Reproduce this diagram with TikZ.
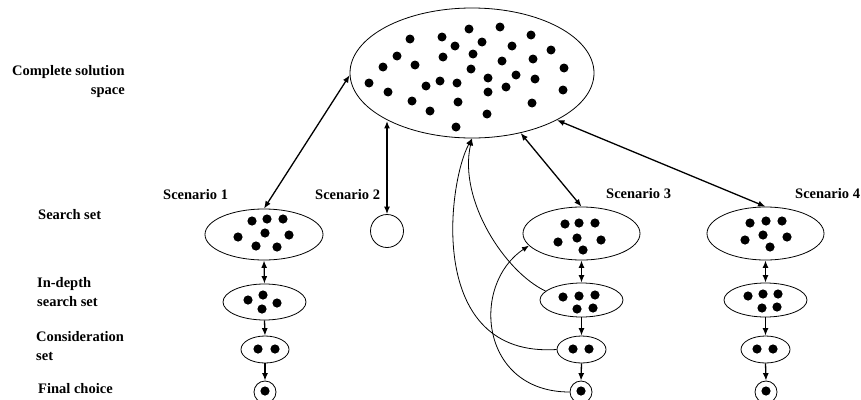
\documentclass[tikz,border=0pt]{standalone}
\usepackage{fontspec}
\setmainfont{Liberation Serif}
\usetikzlibrary{shapes.geometric, arrows.meta}
\begin{document}
\begin{tikzpicture}[x=1pt,y=-1pt,
  set/.style={draw, ellipse, line width=0.8pt, inner sep=0pt},
  pick/.style={draw, circle, line width=0.8pt, inner sep=0pt, minimum size=22pt},
  link/.style={line width=1.3pt, -{Latex[length=7.5pt,width=6pt]}},
  both/.style={line width=1.3pt, {Latex[length=7.5pt,width=6pt]}-{Latex[length=7.5pt,width=6pt]}},
  back/.style={line width=0.8pt, -{Latex[length=7pt,width=5.5pt]}},
  lbl/.style={font=\fontsize{14.5}{17}\selectfont\bfseries, inner sep=0pt},
]
\useasboundingbox (0,0) rectangle (861,399);

% complete solution space
\node[set, minimum width=244pt, minimum height=130pt] (space) at (472,73) {};
\foreach \p in {(410,39),(442,37),(469,29),(500,27),(531,35),(455,46),(482,42),
  (512,46),(551,50),(397,56),(383,67),(415,65),(443,57),(473,54),(502,61),
  (533,59),(564,68),(471,69),(369,83),(388,92),(426,86),(440,81),(457,83),
  (488,78),(516,75),(535,79),(488,92),(506,87),(563,90),(412,101),(430,111),
  (458,102),(532,103),(487,114),(456,127)}
  \fill \p circle[radius=4.5pt];

% scenario 1
\node[set, minimum width=118pt, minimum height=51pt] (s1) at (264,234.5) {};
\node[set, minimum width=83pt, minimum height=36pt] (d1) at (264.5,302) {};
\node[set, minimum width=48pt, minimum height=27pt] (c1) at (265,349.5) {};
\node[pick] (f1) at (265,392) {};
\foreach \p in {(252,221),(267,219),(283,219),(238,237),(265,233),(289,235),(256,246),(277,247),
  (248,300),(263,295),(277,303),(262,309),(258,349),(275,349),(265,391)}
  \fill \p circle[radius=4.6pt];

% scenario 2
\node[draw, circle, line width=0.8pt, inner sep=0pt, minimum size=33pt] (e2) at (387,231) {};

% scenario 3
\node[set, minimum width=117pt, minimum height=53pt] (s3) at (581.5,233.5) {};
\node[set, minimum width=83pt, minimum height=34pt] (d3) at (581.5,300) {};
\node[set, minimum width=49pt, minimum height=27pt] (c3) at (581.5,349.5) {};
\node[pick] (f3) at (581,392) {};
\foreach \p in {(565,224),(579,223),(595,223),(558,242),(577,238),(601,240),(583,250),
  (563,297),(579,296),(595,295),(577,309),(593,308),(573,349),(589,349),(581,391)}
  \fill \p circle[radius=4.6pt];

% scenario 4
\node[set, minimum width=117pt, minimum height=53pt] (s4) at (765.5,233.5) {};
\node[set, minimum width=83pt, minimum height=34pt] (d4) at (765.5,300) {};
\node[set, minimum width=49pt, minimum height=27pt] (c4) at (765.5,349.5) {};
\node[pick] (f4) at (766,392) {};
\foreach \p in {(750,223),(766,221),(782,221),(745,240),(763,235),(787,237),(770,247),
  (748,296),(763,294),(778,294),(762,308),(777,307),(757,349),(773,349),(766,391)}
  \fill \p circle[radius=4.6pt];

% links to the solution space
\draw[both] (space.181) -- (s1.north);
\draw[both] (e2.north) -- (e2.north |- space.-150);
\draw[both] (space.-51) -- (s3.north);
\draw[both] (space.-29) -- (s4.north);

% funnel steps
\foreach \c in {1,3,4} {
  \draw[both] (s\c.south) -- (d\c.north);
  \draw[link] (d\c.south) -- (c\c.north);
  \draw[link] (c\c.south) -- (f\c.north);
}

% feedback loops of scenario 3
\draw[back] (d3.166) .. controls (505,272) and (458,200) .. (space.south);
\draw[back] (c3.west) .. controls (425,358) and (448,182) .. (space.south);
\draw[back] (f3.west) .. controls (480,392) and (470,285) .. (s3.193);

% labels
\node[lbl, anchor=base west] (l1) at (12,75.5) {Complete solution};
\node[lbl, anchor=base east] (l2) at (125,94) {space};
\node[lbl, anchor=base west] (l3) at (38,219) {Search set};
\node[lbl, anchor=base west] (l4) at (37,287) {In-depth};
\node[lbl, anchor=base west] (l5) at (37,306.5) {search set};
\node[lbl, anchor=base west] (l6) at (36,341.5) {Consideration};
\node[lbl, anchor=base west] (l7) at (36,360.5) {set};
\node[lbl, anchor=base west] (l8) at (38,393) {Final choice};
\node[lbl, anchor=base west] (t1) at (163,199) {Scenario 1};
\node[lbl, anchor=base west] (t2) at (315,199) {Scenario 2};
\node[lbl, anchor=base west] (t3) at (606,198) {Scenario 3};
\node[lbl, anchor=base west] (t4) at (795,198) {Scenario 4};
\end{tikzpicture}
\end{document}
